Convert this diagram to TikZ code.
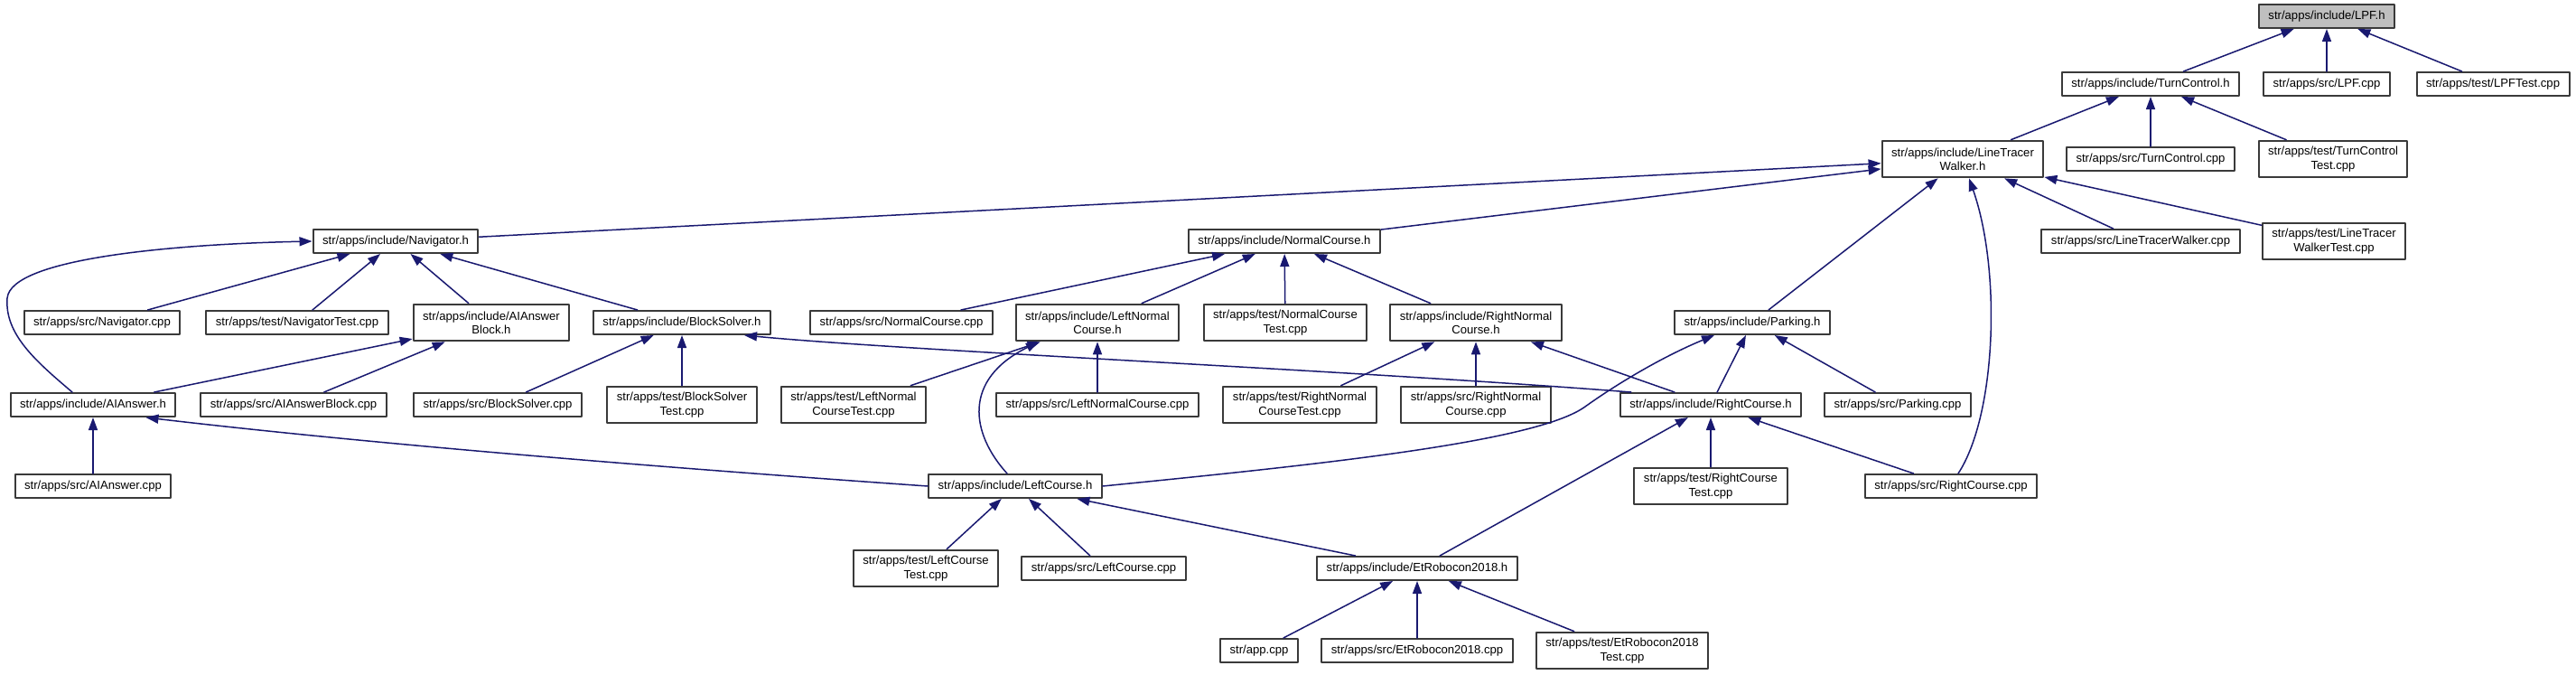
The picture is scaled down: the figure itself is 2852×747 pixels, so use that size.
\documentclass[tikz,border=0pt]{standalone}
\usepackage{fontspec}
\setmainfont{Liberation Sans}
\usetikzlibrary{arrows.meta}
\definecolor{edgeblue}{HTML}{191970}
\definecolor{boxline}{HTML}{3A3A3A}
\definecolor{hifill}{HTML}{BFBFBF}
\tikzset{
  >={Triangle[length=4.2mm, width=3mm]},
  every picture/.style={line cap=round, line join=round},
  fbox/.style={draw=boxline, fill=white, line width=0.6mm, minimum height=7.8mm,
               inner xsep=3.15mm, inner ysep=1mm, align=center,
               font=\fontsize{11.2}{13}\selectfont},
  fbox2/.style={fbox, minimum height=12.2mm},
  hfbox/.style={fbox, fill=hifill},
  inc/.style={->, color=edgeblue, line width=0.45mm},
}

\begin{document}
\begin{tikzpicture}[x=0.3mm, y=-0.3mm]
  \useasboundingbox (0,0) rectangle (2852,747);
  % rank 0
  \node[hfbox] (lpfh) at (2576,18) {str/apps/include/LPF.h};
  % rank 1
  \node[fbox] (tch) at (2381,93) {str/apps/include/TurnControl.h};
  \node[fbox] (lpfcpp) at (2576,93) {str/apps/src/LPF.cpp};
  \node[fbox] (lpftest) at (2760,93) {str/apps/test/LPFTest.cpp};
  % rank 2
  \node[fbox2] (ltwh) at (2173,176) {str/apps/include/LineTracer\\Walker.h};
  \node[fbox] (tccpp) at (2381,176) {str/apps/src/TurnControl.cpp};
  \node[fbox2] (tctest) at (2583,176) {str/apps/test/TurnControl\\Test.cpp};
  % rank 3
  \node[fbox] (navh) at (438,267) {str/apps/include/Navigator.h};
  \node[fbox] (nch) at (1422,267) {str/apps/include/NormalCourse.h};
  \node[fbox] (ltwcpp) at (2370,267) {str/apps/src/LineTracerWalker.cpp};
  \node[fbox2] (ltwtest) at (2584,267) {str/apps/test/LineTracer\\WalkerTest.cpp};
  % rank 4
  \node[fbox] (navcpp) at (113,357) {str/apps/src/Navigator.cpp};
  \node[fbox] (navtest) at (329,357) {str/apps/test/NavigatorTest.cpp};
  \node[fbox2] (aibh) at (544,357) {str/apps/include/AIAnswer\\Block.h};
  \node[fbox] (bsh) at (755,357) {str/apps/include/BlockSolver.h};
  \node[fbox] (nccpp) at (998,357) {str/apps/src/NormalCourse.cpp};
  \node[fbox2] (lnh) at (1215,357) {str/apps/include/LeftNormal\\Course.h};
  \node[fbox2] (nctest) at (1423,357) {str/apps/test/NormalCourse\\Test.cpp};
  \node[fbox2] (rnh) at (1634,357) {str/apps/include/RightNormal\\Course.h};
  \node[fbox] (pkh) at (1940,357) {str/apps/include/Parking.h};
  % rank 5
  \node[fbox] (aih) at (103,448) {str/apps/include/AIAnswer.h};
  \node[fbox] (aibcpp) at (325,448) {str/apps/src/AIAnswerBlock.cpp};
  \node[fbox] (bscpp) at (551,448) {str/apps/src/BlockSolver.cpp};
  \node[fbox2] (bstest) at (755,448) {str/apps/test/BlockSolver\\Test.cpp};
  \node[fbox2] (lntest) at (945,448) {str/apps/test/LeftNormal\\CourseTest.cpp};
  \node[fbox] (lncpp) at (1215,448) {str/apps/src/LeftNormalCourse.cpp};
  \node[fbox2] (rntest) at (1439,448) {str/apps/test/RightNormal\\CourseTest.cpp};
  \node[fbox2] (rncpp) at (1634,448) {str/apps/src/RightNormal\\Course.cpp};
  \node[fbox] (rch) at (1894,448) {str/apps/include/RightCourse.h};
  \node[fbox] (pkcpp) at (2101,448) {str/apps/src/Parking.cpp};
  % rank 6
  \node[fbox] (aicpp) at (103,538) {str/apps/src/AIAnswer.cpp};
  \node[fbox] (lch) at (1124,538) {str/apps/include/LeftCourse.h};
  \node[fbox2] (rctest) at (1894,538) {str/apps/test/RightCourse\\Test.cpp};
  \node[fbox] (rccpp) at (2160,538) {str/apps/src/RightCourse.cpp};
  % rank 7
  \node[fbox2] (lctest) at (1025,629) {str/apps/test/LeftCourse\\Test.cpp};
  \node[fbox] (lccpp) at (1222,629) {str/apps/src/LeftCourse.cpp};
  \node[fbox] (eth) at (1569,629) {str/apps/include/EtRobocon2018.h};
  % rank 8
  \node[fbox] (appcpp) at (1394,720) {str/app.cpp};
  \node[fbox] (etcpp) at (1569,720) {str/apps/src/EtRobocon2018.cpp};
  \node[fbox2] (ettest) at (1796,720) {str/apps/test/EtRobocon2018\\Test.cpp};
  % LPF / TurnControl
  \draw[inc] (tch) -- (lpfh);
  \draw[inc] (lpfcpp) -- (lpfh);
  \draw[inc] (lpftest) -- (lpfh);
  \draw[inc] (ltwh) -- (tch);
  \draw[inc] (tccpp) -- (tch);
  \draw[inc] (tctest) -- (tch);
  % LineTracerWalker
  \draw[inc] (navh) -- (ltwh);
  \draw[inc] (nch) -- (ltwh);
  \draw[inc] (pkh) -- (ltwh);
  \draw[inc] (ltwcpp) -- (ltwh);
  \draw[inc] (ltwtest) -- (ltwh);
  \draw[inc] ([xshift=2.4mm]rccpp.north) .. controls (2210,460) and (2216,300) .. ([xshift=2.1mm]ltwh.south);
  % Navigator
  \draw[inc] (navcpp) -- (navh);
  \draw[inc] (navtest) -- (navh);
  \draw[inc] (aibh) -- (navh);
  \draw[inc] (bsh) -- (navh);
  \draw[inc] ([xshift=-6.9mm]aih.north) .. controls (40,400) and (5,370) .. (8,330)
    .. controls (12,285) and (200,270) .. (navh.west);
  \draw[inc] (aih) -- (aibh);
  \draw[inc] (aibcpp) -- (aibh);
  \draw[inc] (bscpp) -- (bsh);
  \draw[inc] (bstest) -- (bsh);
  \draw[inc] ([xshift=3.9mm]rch.north west) .. controls (1500,410) and (1000,388) .. ([xshift=-9mm]bsh.south east);
  \draw[inc] (aicpp) -- (aih);
  % NormalCourse
  \draw[inc] (nccpp) -- (nch);
  \draw[inc] (lnh) -- (nch);
  \draw[inc] (nctest) -- (nch);
  \draw[inc] (rnh) -- (nch);
  \draw[inc] (lntest) -- (lnh);
  \draw[inc] (lncpp) -- (lnh);
  \draw[inc] (rntest) -- (rnh);
  \draw[inc] (rncpp) -- (rnh);
  % RightCourse / Parking
  \draw[inc] (rch) -- (rnh);
  \draw[inc] (rch) -- (pkh);
  \draw[inc] (pkcpp) -- (pkh);
  \draw[inc] (rctest) -- (rch);
  \draw[inc] (rccpp) -- (rch);
  \draw[inc] (eth) -- (rch);
  % LeftCourse
  \draw[inc] (lch.west) .. controls (700,515) and (400,490) .. ([xshift=-10.2mm]aih.south east);
  \draw[inc] ([xshift=-2.7mm]lch.north) .. controls (1075,480) and (1065,420) .. ([xshift=-19.5mm]lnh.south);
  \draw[inc] (lch.east) .. controls (1450,515) and (1700,490) .. (1755,450)
    .. controls (1790,425) and (1840,395) .. ([xshift=-12.6mm]pkh.south);
  \draw[inc] (lctest) -- (lch);
  \draw[inc] (lccpp) -- (lch);
  \draw[inc] (eth) -- (lch);
  % EtRobocon2018
  \draw[inc] (appcpp) -- (eth);
  \draw[inc] (etcpp) -- (eth);
  \draw[inc] (ettest) -- (eth);
\end{tikzpicture}
\end{document}
